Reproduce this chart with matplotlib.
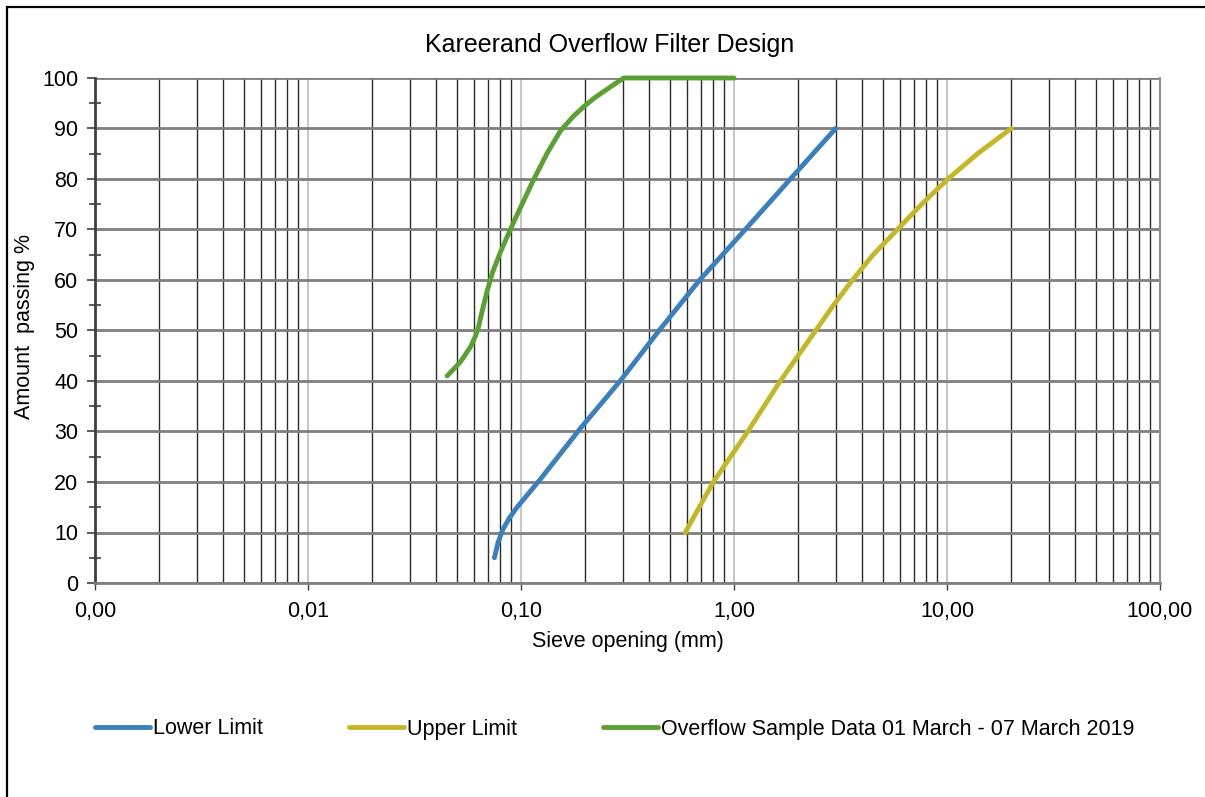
import matplotlib
matplotlib.use("Agg")
import matplotlib.pyplot as plt
from matplotlib.ticker import FixedLocator, NullFormatter, MultipleLocator
from matplotlib.patches import Rectangle

plt.rcParams['font.family'] = ['Liberation Sans', 'DejaVu Sans']

title = "Kareerand Overflow Filter Design"
x_label = "Sieve opening (mm)"
y_label = "Amount  passing %"

lower_x = [0.075, 0.078, 0.082, 0.088, 0.095, 0.123, 0.189, 0.292, 0.445, 0.69, 1.13, 1.84, 3.0]
lower_y = [5, 8, 10.5, 12.8, 14.8, 20.5, 30.5, 40, 50, 60, 70, 80, 90]

upper_x = [0.59, 0.80, 1.16, 1.65, 2.42, 2.93, 3.6, 4.5, 5.85, 7.6, 10.1, 13.9, 20.0]
upper_y = [10, 20, 30, 40, 50, 55, 60, 65, 70, 75, 80, 85, 90]

sample_x = [0.045, 0.052, 0.058, 0.061, 0.063, 0.065, 0.069, 0.0735, 0.080, 0.092,
            0.115, 0.133, 0.153, 0.175, 0.198, 0.222, 0.246, 0.275, 0.304, 0.425,
            0.60, 1.0]
sample_y = [41, 43.8, 46.8, 48.8, 50.5, 53, 57.5, 61.5, 65.5, 71.3,
            80, 85.2, 89.5, 92.3, 94.4, 96.1, 97.4, 98.8, 100, 100,
            100, 100]

series_names = ["Lower Limit", "Upper Limit",
                "Overflow Sample Data 01 March - 07 March 2019"]
series_colors = ["#3B80BB", "#C4B828", "#5BA032"]

x_ticks = [0.001, 0.01, 0.1, 1, 10, 100]
x_tick_labels = ["0,00", "0,01", "0,10", "1,00", "10,00", "100,00"]
y_ticks = [0, 10, 20, 30, 40, 50, 60, 70, 80, 90, 100]

W, H = 1205, 797
fs = 15.5
fig = plt.figure(figsize=(W / 100, H / 100), dpi=100)
ax = fig.add_axes([95 / W, 1 - 583 / H, (1160 - 95) / W, (583 - 78) / H])

ax.set_xscale('log')
ax.set_xlim(0.001, 100)
ax.set_ylim(0, 100)

minor_x = [m * 10.0 ** e for e in range(-3, 2) for m in range(2, 10)]
ax.xaxis.set_major_locator(FixedLocator(x_ticks))
ax.xaxis.set_minor_locator(FixedLocator(minor_x))
ax.xaxis.set_minor_formatter(NullFormatter())
ax.set_xticklabels(x_tick_labels)
ax.set_yticks(y_ticks)
ax.yaxis.set_minor_locator(MultipleLocator(5))

ax.grid(which='minor', axis='x', color='#2a2a2a', lw=1.0, zorder=0)
ax.grid(which='major', axis='x', color='#c8c8c8', lw=1.5, zorder=0)
ax.grid(which='major', axis='y', color='#7f7f7f', lw=2.0, zorder=0.5)
ax.set_axisbelow(True)

ax.tick_params(axis='x', which='major', direction='out', length=5, width=1,
               color='#404040', labelsize=fs, pad=8)
ax.tick_params(axis='x', which='minor', length=0)
ax.tick_params(axis='y', which='major', direction='out', length=6, width=1.2,
               color='#404040', labelsize=fs, pad=6)
ax.tick_params(axis='y', which='minor', direction='inout', length=8, width=1.2,
               color='#404040')

ax.spines['top'].set_visible(False)
ax.spines['left'].set_color('#404040')
ax.spines['left'].set_linewidth(2)
ax.spines['bottom'].set_color('#808080')
ax.spines['bottom'].set_linewidth(2)
ax.spines['right'].set_color('#909090')
ax.spines['right'].set_linewidth(1.5)

lw = 3.5
for xs, ys, c, n in [(lower_x, lower_y, series_colors[0], series_names[0]),
                     (upper_x, upper_y, series_colors[1], series_names[1]),
                     (sample_x, sample_y, series_colors[2], series_names[2])]:
    ax.plot(xs, ys, color=c, lw=lw, label=n, solid_capstyle='round',
            solid_joinstyle='round', zorder=3, clip_on=False)

ax.set_xlabel(x_label, fontsize=fs, va='center')
ax.xaxis.set_label_coords(0.5, (583 - 642) / 505)
ax.set_ylabel(y_label, fontsize=fs, va='center')
ax.yaxis.set_label_coords((25 - 95) / 1065, (583 - 327) / 505)

fig.text(610 / W, 1 - 45 / H, title, ha='center', va='center', fontsize=18)

fig.legend(loc='center left', bbox_to_anchor=(95 / W, 1 - 729 / H),
           ncol=3, frameon=False, fontsize=fs, handlelength=2.55,
           handletextpad=0.15, columnspacing=4.0, borderpad=0,
           borderaxespad=0)

fig.patches.append(Rectangle((7 / W, -0.2), 1.5, 1.2 - 7 / H,
                             transform=fig.transFigure, fill=False,
                             edgecolor='black', lw=1.6))

fig.savefig("out.png", dpi=100)
